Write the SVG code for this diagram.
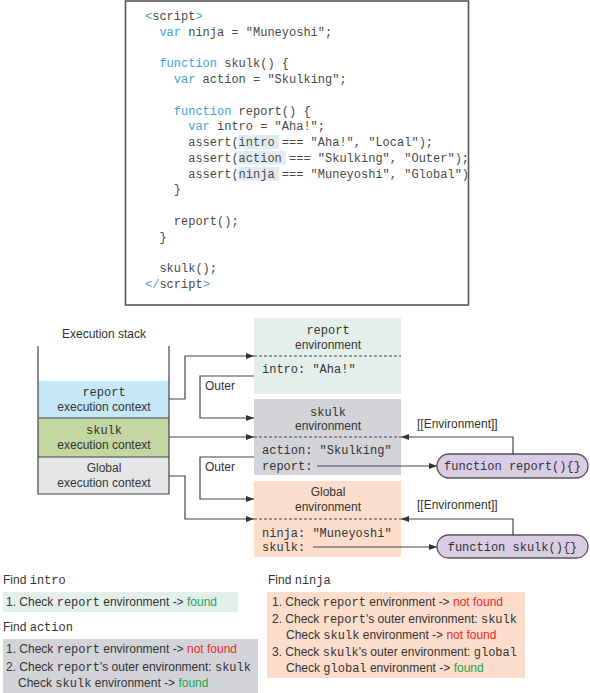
<svg xmlns="http://www.w3.org/2000/svg" width="590" height="693" viewBox="0 0 590 693">
<style>
text{font-family:"Liberation Sans",Arial,sans-serif;font-size:12px;fill:#333}
.m{font-family:"Liberation Mono","Courier New",monospace}
.code{font-family:"Liberation Mono","Courier New",monospace;font-size:12px;fill:#4a4a4a}
.kw{fill:#3fa3da}
.hl{fill:#e0ebf1}
.c{text-anchor:middle}
.ok{fill:#1ea54c}
.no{fill:#ee2a2a}
.ln{fill:none;stroke:#444;stroke-width:1.2}
.dash{stroke:#444;stroke-width:1;stroke-dasharray:3,2}
.pill{fill:#d9cde5;stroke:#555;stroke-width:1.3}
</style>
<defs>
<marker id="ah" viewBox="0 0 8 6" refX="8" refY="3" markerWidth="8" markerHeight="6" orient="auto" markerUnits="userSpaceOnUse"><path d="M0,0 L8,3 L0,6 z" fill="#333"/></marker>
<clipPath id="cc"><rect x="126" y="2" width="342" height="302"/></clipPath>
</defs>

<g id="code">
<rect x="125.5" y="1" width="343" height="304" fill="#fff" stroke="#555" stroke-width="1.6"/>
<rect class="hl" x="238.3" y="135" width="41" height="14"/>
<rect class="hl" x="238.3" y="151" width="47.4" height="13.5"/>
<rect class="hl" x="238.3" y="167" width="41" height="13.5"/>
<g clip-path="url(#cc)" xml:space="preserve">
<text class="code" x="145" y="20"><tspan class="kw">&lt;</tspan>script<tspan class="kw">&gt;</tspan></text>
<text class="code" x="159.4" y="35.8"><tspan class="kw">var</tspan> ninja = "Muneyoshi";</text>
<text class="code" x="159.4" y="67.2"><tspan class="kw">function</tspan> skulk() {</text>
<text class="code" x="173.8" y="83"><tspan class="kw">var</tspan> action = "Skulking";</text>
<text class="code" x="173.8" y="114.5"><tspan class="kw">function</tspan> report() {</text>
<text class="code" x="188.2" y="130.2"><tspan class="kw">var</tspan> intro = "Aha!";</text>
<text class="code" x="188.2" y="146">assert(intro === "Aha!", "Local");</text>
<text class="code" x="188.2" y="161.8">assert(action === "Skulking", "Outer");</text>
<text class="code" x="188.2" y="177.5">assert(ninja === "Muneyoshi", "Global");</text>
<text class="code" x="173.8" y="193.2">}</text>
<text class="code" x="173.8" y="224.8">report();</text>
<text class="code" x="159.4" y="240.5">}</text>
<text class="code" x="159.4" y="272">skulk();</text>
<text class="code" x="145" y="287.8"><tspan class="kw">&lt;/</tspan>script<tspan class="kw">&gt;</tspan></text>
</g>
</g>

<g id="stack">
<text class="c" x="104" y="338">Execution stack</text>
<rect x="38" y="381" width="131" height="37" fill="#c6e7f7"/>
<rect x="38" y="418" width="131" height="39" fill="#c4d6a2"/>
<rect x="38" y="457" width="131" height="37" fill="#e4e6e7"/>
<path class="ln" d="M38,346 V494 H169 V346 M38,418 H169 M38,457 H169"/>
</g>
<g id="ctx-report">
<text class="m c" x="104" y="396">report</text>
<text class="c" x="104" y="411">execution context</text>
</g>
<g id="ctx-skulk">
<text class="m c" x="104" y="434">skulk</text>
<text class="c" x="104" y="449">execution context</text>
</g>
<g id="ctx-global">
<text class="c" x="104" y="472">Global</text>
<text class="c" x="104" y="487">execution context</text>
</g>

<g id="env-report">
<rect x="254" y="318" width="147" height="76" fill="#e4efec"/>
<text class="m c" x="328" y="334">report</text>
<text class="c" x="328" y="349">environment</text>
<line class="dash" x1="254" y1="356" x2="401" y2="356"/>
<text class="m" x="262" y="373">intro: "Aha!"</text>
</g>
<g id="env-skulk">
<rect x="254" y="399" width="147" height="76" fill="#d2d4d7"/>
<text class="m c" x="328" y="416">skulk</text>
<text class="c" x="328" y="430">environment</text>
<line class="dash" x1="254" y1="437" x2="401" y2="437"/>
<text class="m" x="262" y="454">action: "Skulking"</text>
<text class="m" x="262" y="470">report:</text>
</g>
<g id="env-global">
<rect x="254" y="481" width="147" height="76" fill="#fcdccb"/>
<text class="c" x="328" y="496">Global</text>
<text class="c" x="328" y="511">environment</text>
<line class="dash" x1="254" y1="519" x2="401" y2="519"/>
<text class="m" x="262" y="537">ninja: "Muneyoshi"</text>
<text class="m" x="262" y="551">skulk:</text>
</g>

<g id="fn-report">
<rect class="pill" x="437" y="454" width="151" height="24" rx="12"/>
<text class="m c" x="512.5" y="470">function report(){}</text>
</g>
<g id="fn-skulk">
<rect class="pill" x="437" y="535" width="151" height="23" rx="11.5"/>
<text class="m c" x="512.5" y="551">function skulk(){}</text>
</g>

<g id="connectors">
<path class="ln" d="M169,399 H185 V356 H254" marker-end="url(#ah)"/>
<path class="ln" d="M169,437 H254" marker-end="url(#ah)"/>
<path class="ln" d="M169,476 H185 V519 H254" marker-end="url(#ah)"/>
<path class="ln" d="M254,376 H200 V418 H254" marker-end="url(#ah)"/>
<path class="ln" d="M254,457 H200 V499 H254" marker-end="url(#ah)"/>
<path class="ln" d="M317,466 H437" marker-end="url(#ah)"/>
<path class="ln" d="M313,547 H437" marker-end="url(#ah)"/>
<path class="ln" d="M513,454 V437 H401" marker-end="url(#ah)"/>
<path class="ln" d="M513,535 V519 H401" marker-end="url(#ah)"/>
<text x="205" y="390">Outer</text>
<text x="205" y="471">Outer</text>
<text x="417" y="428">[[Environment]]</text>
<text x="417" y="509">[[Environment]]</text>
</g>

<g id="find-intro">
<text x="3" y="584">Find <tspan class="m">intro</tspan></text>
<rect x="3" y="592" width="235" height="20" fill="#e4efec"/>
<text x="6" y="606">1. Check <tspan class="m">report</tspan> environment -&gt; <tspan class="ok">found</tspan></text>
</g>
<g id="find-action">
<text x="3" y="631">Find <tspan class="m">action</tspan></text>
<rect x="3" y="639" width="255" height="54" fill="#d2d4d7"/>
<text x="6" y="653">1. Check <tspan class="m">report</tspan> environment -&gt; <tspan class="no">not found</tspan></text>
<text x="6" y="671">2. Check <tspan class="m">report</tspan>'s outer environment: <tspan class="m">skulk</tspan></text>
<text x="18" y="687">Check <tspan class="m">skulk</tspan> environment -&gt; <tspan class="ok">found</tspan></text>
</g>
<g id="find-ninja">
<text x="268" y="584">Find <tspan class="m">ninja</tspan></text>
<rect x="267" y="592" width="258" height="86" fill="#fcdccb"/>
<text x="272" y="606">1. Check <tspan class="m">report</tspan> environment -&gt; <tspan class="no">not found</tspan></text>
<text x="272" y="623">2. Check <tspan class="m">report</tspan>'s outer environment: <tspan class="m">skulk</tspan></text>
<text x="286" y="639">Check <tspan class="m">skulk</tspan> environment -&gt; <tspan class="no">not found</tspan></text>
<text x="272" y="656">3. Check <tspan class="m">skulk</tspan>'s outer environment: <tspan class="m">global</tspan></text>
<text x="286" y="672">Check <tspan class="m">global</tspan> environment -&gt; <tspan class="ok">found</tspan></text>
</g>
</svg>
